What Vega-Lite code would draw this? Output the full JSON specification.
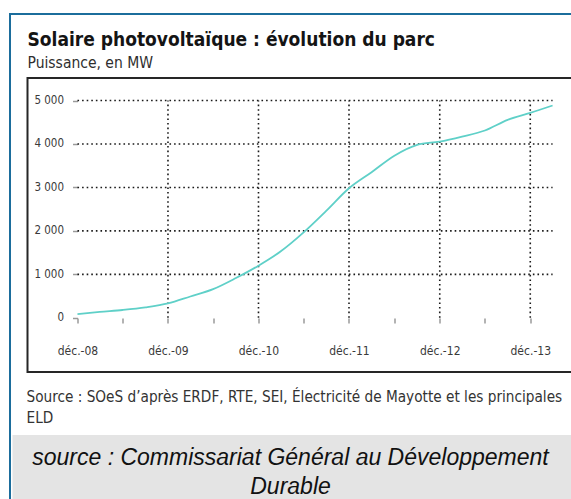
{
  "$schema": "https://vega.github.io/schema/vega-lite/v6.json",
  "background": "white",
  "padding": {"left": 9, "top": 13, "right": 0, "bottom": 0},
  "bounds": "flush",
  "spacing": 0,
  "config": {
    "font": "DejaVu Sans Condensed, Roboto, sans-serif",
    "view": {"stroke": null}
  },
  "hconcat": [
    {
      "width": 2,
      "height": 486,
      "view": {"fill": "#1b6d9c", "stroke": null},
      "data": {"values": []},
      "mark": "rule",
      "encoding": {}
    },
    {
      "bounds": "flush",
      "center": true,
      "spacing": 63,
      "vconcat": [
        {
          "width": 581,
          "height": 2,
          "view": {"fill": "#1b6d9c", "stroke": null},
          "data": {"values": []},
          "mark": "rule",
          "encoding": {}
        },
        {
          "width": 548,
          "height": 294,
          "view": {"stroke": "#262626", "strokeWidth": 2},
          "title": {
            "text": "Solaire photovoltaïque : évolution du parc",
            "subtitle": "Puissance, en MW",
            "anchor": "start",
            "frame": "group",
            "font": "DejaVu Sans Condensed, Roboto, sans-serif",
            "subtitleFont": "DejaVu Sans Condensed, Roboto, sans-serif",
            "fontSize": 19,
            "fontWeight": "bold",
            "subtitleFontSize": 15.5,
            "color": "#141414",
            "subtitleColor": "#2e2e2e",
            "subtitlePadding": 6.5,
            "offset": 6.5
          },
          "layer": [
            {
              "data": {"values": [{"v": 1000}, {"v": 2000}, {"v": 3000}, {"v": 4000}, {"v": 5000}]},
              "mark": {"type": "rule", "stroke": "#1a1a1a", "strokeWidth": 1.6, "strokeDash": [1.6, 3]},
              "encoding": {
                "y": {"field": "v", "type": "quantitative", "scale": {"domain": [-1247, 5518], "zero": false, "nice": false}, "axis": {"title": null}},
                "x": {"datum": {"year": 2008, "month": 12, "date": 1, "utc": true}, "type": "temporal", "scale": {"type": "utc", "domain": [{"year": 2008, "month": 5, "date": 13, "hours": 12, "utc": true}, {"year": 2014, "month": 6, "date": 1, "hours": 10, "utc": true}]}, "axis": {"title": null}},
                "x2": {"datum": {"year": 2014, "month": 3, "date": 1, "utc": true}}
              }
            },
            {
              "data": {"values": [{"d": "2009-12-01"}, {"d": "2010-12-01"}, {"d": "2011-12-01"}, {"d": "2012-12-01"}, {"d": "2013-12-01"}]},
              "mark": {"type": "rule", "stroke": "#1a1a1a", "strokeWidth": 1.6, "strokeDash": [1.6, 3]},
              "encoding": {
                "x": {"field": "d", "type": "temporal", "axis": {"title": null}},
                "y": {"datum": 0, "type": "quantitative", "axis": {"title": null}},
                "y2": {"datum": 5000}
              }
            },
            {
              "mark": {"type": "rule", "stroke": "#9a9a9a", "strokeWidth": 1.6},
              "encoding": {
                "x": {"datum": {"year": 2008, "month": 12, "date": 1, "utc": true}, "type": "temporal", "axis": {"title": null}},
                "y": {"datum": 0, "type": "quantitative", "axis": {"title": null}},
                "y2": {"datum": 5000}
              }
            },
            {
              "mark": {"type": "rule", "stroke": "#9a9a9a", "strokeWidth": 1.6},
              "encoding": {
                "x": {"datum": {"year": 2014, "month": 3, "date": 1, "utc": true}, "type": "temporal", "axis": {"title": null}},
                "y": {"datum": 0, "type": "quantitative", "axis": {"title": null}},
                "y2": {"datum": 5000}
              }
            },
            {
              "mark": {"type": "rule", "stroke": "#9a9a9a", "strokeWidth": 1.6},
              "encoding": {
                "x": {"datum": {"year": 2008, "month": 12, "date": 1, "utc": true}, "type": "temporal", "axis": {"title": null}},
                "x2": {"datum": {"year": 2014, "month": 3, "date": 1, "utc": true}},
                "y": {"datum": 0, "type": "quantitative", "axis": {"title": null}}
              }
            },
            {
              "data": {"values": [
                {"date": "2008-12-01", "mw": 85},
                {"date": "2009-03-01", "mw": 135},
                {"date": "2009-06-01", "mw": 180},
                {"date": "2009-09-01", "mw": 240},
                {"date": "2009-12-01", "mw": 330},
                {"date": "2010-03-01", "mw": 490},
                {"date": "2010-06-01", "mw": 660},
                {"date": "2010-09-01", "mw": 915},
                {"date": "2010-12-01", "mw": 1200},
                {"date": "2011-03-01", "mw": 1530},
                {"date": "2011-06-01", "mw": 1965},
                {"date": "2011-09-01", "mw": 2465},
                {"date": "2011-12-01", "mw": 2980},
                {"date": "2012-03-01", "mw": 3350},
                {"date": "2012-06-01", "mw": 3730},
                {"date": "2012-09-01", "mw": 3980},
                {"date": "2012-12-01", "mw": 4055},
                {"date": "2013-03-01", "mw": 4170},
                {"date": "2013-06-01", "mw": 4310},
                {"date": "2013-09-01", "mw": 4555},
                {"date": "2013-12-01", "mw": 4715},
                {"date": "2014-03-01", "mw": 4885}
              ]},
              "mark": {"type": "line", "stroke": "#5fd0c8", "strokeWidth": 1.8, "interpolate": "monotone"},
              "encoding": {
                "x": {
                  "field": "date", "type": "temporal",
                  "axis": {
                    "orient": "bottom", "offset": -54, "title": null, "domain": false, "grid": false,
                    "values": [
                      {"year": 2008, "month": 12, "date": 1, "utc": true},
                      {"year": 2009, "month": 3, "date": 1, "utc": true},
                      {"year": 2009, "month": 6, "date": 1, "utc": true},
                      {"year": 2009, "month": 9, "date": 1, "utc": true},
                      {"year": 2009, "month": 12, "date": 1, "utc": true},
                      {"year": 2010, "month": 3, "date": 1, "utc": true},
                      {"year": 2010, "month": 6, "date": 1, "utc": true},
                      {"year": 2010, "month": 9, "date": 1, "utc": true},
                      {"year": 2010, "month": 12, "date": 1, "utc": true},
                      {"year": 2011, "month": 3, "date": 1, "utc": true},
                      {"year": 2011, "month": 6, "date": 1, "utc": true},
                      {"year": 2011, "month": 9, "date": 1, "utc": true},
                      {"year": 2011, "month": 12, "date": 1, "utc": true},
                      {"year": 2012, "month": 3, "date": 1, "utc": true},
                      {"year": 2012, "month": 6, "date": 1, "utc": true},
                      {"year": 2012, "month": 9, "date": 1, "utc": true},
                      {"year": 2012, "month": 12, "date": 1, "utc": true},
                      {"year": 2013, "month": 3, "date": 1, "utc": true},
                      {"year": 2013, "month": 6, "date": 1, "utc": true},
                      {"year": 2013, "month": 9, "date": 1, "utc": true},
                      {"year": 2013, "month": 12, "date": 1, "utc": true},
                      {"year": 2014, "month": 3, "date": 1, "utc": true}
                    ],
                    "labelExpr": "utcmonth(datum.value) == 11 ? 'déc.-' + utcFormat(datum.value, '%y') : ''",
                    "tickSize": 5, "tickColor": "#9a9a9a", "tickWidth": 1.5,
                    "labelFontSize": 12, "labelColor": "#3a3a3a", "labelPadding": 22,
                    "labelFlush": false, "labelOverlap": false
                  }
                },
                "y": {
                  "field": "mw", "type": "quantitative",
                  "axis": {
                    "orient": "left", "offset": -50, "title": null, "domain": false, "grid": false,
                    "values": [0, 1000, 2000, 3000, 4000, 5000],
                    "labelExpr": "replace(format(datum.value, ','), ',', ' ')",
                    "tickSize": 5, "tickColor": "#9a9a9a", "tickWidth": 1.5,
                    "labelFontSize": 11.5, "labelColor": "#3a3a3a", "labelPadding": 9
                  }
                }
              }
            }
          ]
        },
        {
          "width": 578,
          "height": 64,
          "view": {"fill": "#e4e4e4", "stroke": null},
          "title": {
            "text": ["Source : SOeS d’après ERDF, RTE, SEI, Électricité de Mayotte et les principales", "ELD"],
            "anchor": "start",
            "frame": "group",
            "dx": 14,
            "font": "DejaVu Sans Condensed, Roboto, sans-serif",
            "fontSize": 15.2,
            "fontWeight": "normal",
            "lineHeight": 21,
            "color": "#333333",
            "offset": 9
          },
          "data": {"values": [{"text": "source : Commissariat Général au Développement\nDurable"}]},
          "mark": {"type": "text", "font": "Liberation Sans", "fontStyle": "italic", "fontSize": 23, "lineBreak": "\n", "lineHeight": 29, "align": "center", "baseline": "middle", "dx": -11, "dy": -9, "color": "#111111"},
          "encoding": {"text": {"field": "text", "type": "nominal"}}
        }
      ]
    }
  ]
}
